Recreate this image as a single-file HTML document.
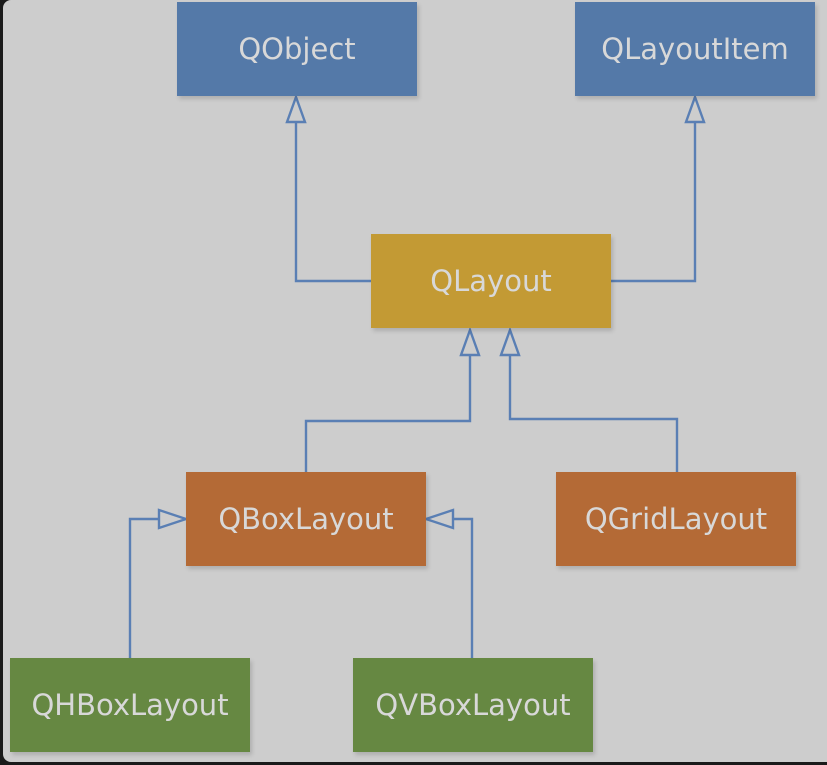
<!DOCTYPE html>
<html><head><style>
html,body{margin:0;padding:0;width:827px;height:765px;overflow:hidden;background:#1a1a1a;}
#f{position:absolute;left:3px;top:0;width:824px;height:762px;background:#cdcdcd;border-radius:8px 0 0 8px;}
.b{position:absolute;width:240px;height:94px;display:flex;align-items:center;justify-content:center;color:#d8d8d8;font-family:"DejaVu Sans","Liberation Sans",sans-serif;font-size:29px;box-shadow:2px 3px 4px rgba(0,0,0,0.15);}
svg{position:absolute;left:0;top:0;}
</style></head><body>
<div id="f"></div>
<svg width="827" height="765" fill="none" stroke="#5a7fb4" stroke-width="2.4">
<polyline points="296,118 296,281 371,281"/>
<polygon points="296,97 287,122 305,122" fill="#cdcdcd"/>
<polyline points="695,118 695,281 611,281"/>
<polygon points="695,97 686,122 704,122" fill="#cdcdcd"/>
<polyline points="470,355 470,421 306,421 306,472"/>
<polygon points="470,330 461,355 479,355" fill="#cdcdcd"/>
<polyline points="510,355 510,419 677,419 677,472"/>
<polygon points="510,330 501,355 519,355" fill="#cdcdcd"/>
<polyline points="130,658 130,519 159,519"/>
<polygon points="186,519 159,510 159,528" fill="#cdcdcd"/>
<polyline points="472,658 472,519 453,519"/>
<polygon points="426,519 453,510 453,528" fill="#cdcdcd"/>
</svg>
<div class="b" style="left:177px;top:2px;background:#5479a8">QObject</div>
<div class="b" style="left:575px;top:2px;background:#5479a8">QLayoutItem</div>
<div class="b" style="left:371px;top:234px;background:#c39a34">QLayout</div>
<div class="b" style="left:186px;top:472px;background:#b46a36">QBoxLayout</div>
<div class="b" style="left:556px;top:472px;background:#b46a36">QGridLayout</div>
<div class="b" style="left:10px;top:658px;background:#668842">QHBoxLayout</div>
<div class="b" style="left:353px;top:658px;background:#668842">QVBoxLayout</div>
</body></html>
